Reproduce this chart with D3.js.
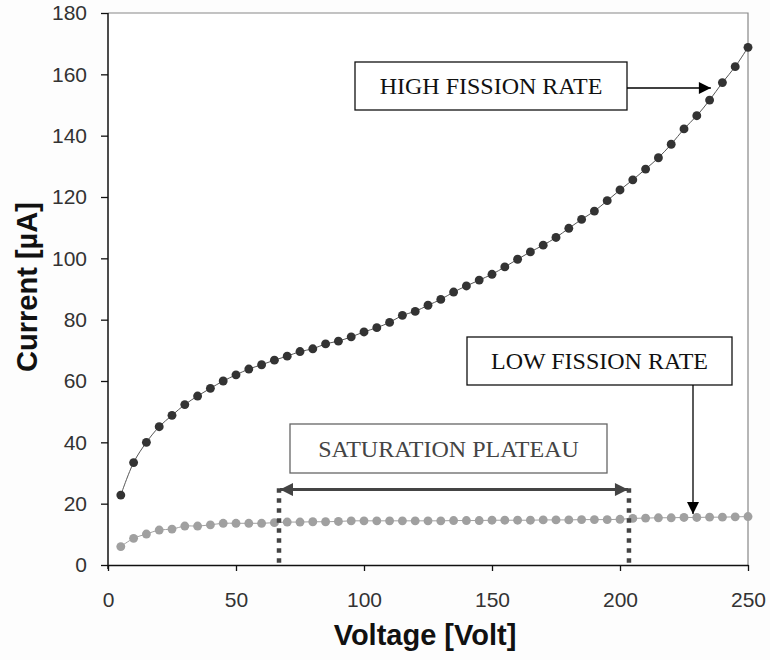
<!DOCTYPE html>
<html><head><meta charset="utf-8">
<script src="https://cdn.jsdelivr.net/npm/d3@7"></script>
<style>body{margin:0;background:#fdfdfd;} svg{display:block;}</style>
</head><body>
<script>
const voltage = d3.range(5, 251, 5);
const highFission = [22.8,33.4,40,45.1,48.8,52.3,55.1,57.6,60,62,63.9,65.3,66.8,68.1,69.6,70.5,72.1,73,74.4,76,77.4,79.1,81.4,82.7,84.7,86.6,89,91,92.9,94.8,97.2,99.7,102.1,104.3,106.8,109.8,112.7,115.4,118.8,122.3,125.6,129.1,132.8,137.2,142.2,146.5,151.6,157.3,162.5,168.8];
const lowFission = [6,8.7,10.1,11.4,11.7,12.7,12.7,13.1,13.6,13.6,13.6,13.6,13.8,14,14,14.1,14.1,14.2,14.4,14.4,14.4,14.4,14.4,14.4,14.4,14.4,14.5,14.5,14.5,14.6,14.6,14.6,14.6,14.7,14.7,14.7,14.8,14.8,14.8,14.9,15.2,15.3,15.4,15.4,15.5,15.5,15.6,15.6,15.7,15.8];
const xTicks = [0,50,100,150,200,250];
const yTicks = [0,20,40,60,80,100,120,140,160,180];
const plateau = [66.8, 203.5];
const labels = {high:"HIGH FISSION RATE", low:"LOW FISSION RATE", plateau:"SATURATION PLATEAU"};

const W=770,H=660;
const svg=d3.select("body").append("svg").attr("width",W).attr("height",H);
svg.append("rect").attr("width",W).attr("height",H).attr("fill","#fdfdfd");
const x=d3.scaleLinear().domain([0,250]).range([108,748]);
const y=d3.scaleLinear().domain([0,180]).range([565,13]);

svg.append("rect").attr("x",108).attr("y",13).attr("width",640).attr("height",552).attr("fill","#ffffff");
svg.append("path").attr("d",`M108,13H748V565`).attr("fill","none").attr("stroke","#888").attr("stroke-width",1.2);

const font="Liberation Sans, Arial, sans-serif";
const xAx=svg.append("g").attr("transform","translate(0,565)").call(d3.axisBottom(x).tickValues(xTicks).tickSize(6).tickPadding(21).tickSizeOuter(0));
const yAx=svg.append("g").attr("transform","translate(108,0)").call(d3.axisLeft(y).tickValues(yTicks).tickSize(7).tickPadding(14).tickSizeOuter(0));
[xAx,yAx].forEach(g=>{
  g.select(".domain").attr("stroke","#111").attr("stroke-width",1.5);
  g.selectAll(".tick line").attr("stroke","#111").attr("stroke-width",1.3);
  g.selectAll(".tick text").attr("font-family",font).attr("font-size",21).attr("fill","#333");
});
yAx.select(".domain").attr("d","M0,13V569");

svg.append("text").attr("transform","translate(37,287) rotate(-90)").attr("text-anchor","middle")
  .attr("font-family",font).attr("font-weight","bold").attr("font-size",29).attr("fill","#111").text("Current [µA]");
svg.append("text").attr("x",425).attr("y",645).attr("text-anchor","middle")
  .attr("font-family",font).attr("font-weight","bold").attr("font-size",29).attr("fill","#111").text("Voltage [Volt]");

const line=d3.line().x(d=>x(d[0])).y(d=>y(d[1])).curve(d3.curveCatmullRom);
function series(vals,color,lineColor){
  const data=voltage.map((v,i)=>[v,vals[i]]);
  svg.append("path").datum(data).attr("d",line).attr("fill","none").attr("stroke",lineColor).attr("stroke-width",1);
  svg.append("g").selectAll("path").data(data).join("path")
    .attr("d",d3.symbol().type(d3.symbolCircle).size(62))
    .attr("transform",d=>`translate(${x(d[0])},${y(d[1])})`).attr("fill",color);
}
series(lowFission,"#a0a0a0","#a0a0a0");
series(highFission,"#333333","#555555");

const defs=svg.append("defs");
function marker(id,color,w,h){
  defs.append("marker").attr("id",id).attr("viewBox","0 0 10 10").attr("refX",10).attr("refY",5)
   .attr("markerWidth",w).attr("markerHeight",h).attr("markerUnits","userSpaceOnUse").attr("orient","auto-start-reverse")
   .append("path").attr("d","M0,0L10,5L0,10z").attr("fill",color);
}
marker("ah","#000",13,12);
marker("ag","#444",15,13);

const serif="Liberation Serif, Times New Roman, serif";
function box(x0,y0,x1,y1,txt,stroke,tcolor){
  svg.append("rect").attr("x",x0).attr("y",y0).attr("width",x1-x0).attr("height",y1-y0)
    .attr("fill","#fff").attr("stroke",stroke).attr("stroke-width",1.3);
  svg.append("text").attr("x",(x0+x1)/2).attr("y",(y0+y1)/2+8).attr("text-anchor","middle")
    .attr("font-family",serif).attr("font-size",24).attr("fill",tcolor).text(txt);
}
box(355,62,627,110,labels.high,"#111","#111");
svg.append("line").attr("x1",627).attr("y1",88).attr("x2",x(235.5)).attr("y2",88)
  .attr("stroke","#000").attr("stroke-width",1.3).attr("marker-end","url(#ah)");
box(467,337,732,385,labels.low,"#111","#111");
svg.append("line").attr("x1",693).attr("y1",385).attr("x2",693).attr("y2",y(16.6))
  .attr("stroke","#000").attr("stroke-width",1.3).attr("marker-end","url(#ah)");
box(290,424,607,473,labels.plateau,"#666","#444");
plateau.forEach(v=>{
  svg.append("line").attr("x1",x(v)).attr("x2",x(v)).attr("y1",y(25)).attr("y2",565)
    .attr("stroke","#444").attr("stroke-width",4.5).attr("stroke-dasharray","4.5,5.5");
});
svg.append("line").attr("x1",x(plateau[0])+1).attr("x2",x(plateau[1])-1).attr("y1",y(24.6)).attr("y2",y(24.6))
  .attr("stroke","#444").attr("stroke-width",3).attr("marker-start","url(#ag)").attr("marker-end","url(#ag)");
</script>
</body></html>
